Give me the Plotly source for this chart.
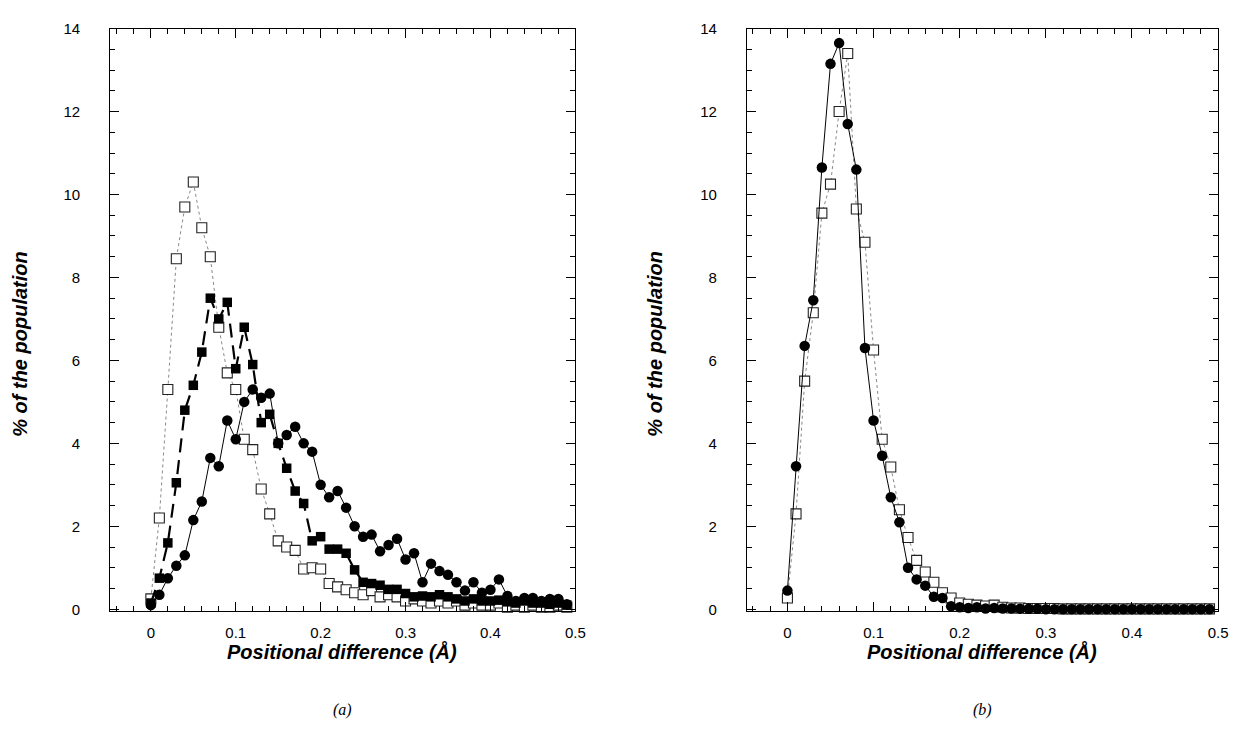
import plotly.graph_objects as go

# ---------------- data ----------------
x_bins = [0.00, 0.01, 0.02, 0.03, 0.04, 0.05, 0.06, 0.07, 0.08, 0.09,
          0.10, 0.11, 0.12, 0.13, 0.14, 0.15, 0.16, 0.17, 0.18, 0.19,
          0.20, 0.21, 0.22, 0.23, 0.24, 0.25, 0.26, 0.27, 0.28, 0.29,
          0.30, 0.31, 0.32, 0.33, 0.34, 0.35, 0.36, 0.37, 0.38, 0.39,
          0.40, 0.41, 0.42, 0.43, 0.44, 0.45, 0.46, 0.47, 0.48, 0.49]

# panel (a)
a_open_squares = [0.25, 2.2, 5.3, 8.45, 9.7, 10.3, 9.2, 8.5, 6.8, 5.7,
                  5.3, 4.1, 3.85, 2.9, 2.3, 1.65, 1.5, 1.42, 0.97, 1.0,
                  0.97, 0.62, 0.54, 0.47, 0.4, 0.35, 0.45, 0.3, 0.35, 0.3,
                  0.2, 0.25, 0.2, 0.15, 0.2, 0.15, 0.2, 0.1, 0.15, 0.1,
                  0.1, 0.15, 0.05, 0.1, 0.05, 0.1, 0.05, 0.05, 0.1, 0.05]
a_filled_squares = [0.15, 0.75, 1.6, 3.05, 4.8, 5.4, 6.2, 7.5, 7.0, 7.4,
                    5.8, 6.8, 5.9, 4.5, 4.7, 4.0, 3.4, 2.85, 2.55, 1.65,
                    1.75, 1.45, 1.45, 1.35, 0.95, 0.65, 0.62, 0.58, 0.48, 0.48,
                    0.38, 0.3, 0.32, 0.3, 0.35, 0.3, 0.25, 0.2, 0.25, 0.2,
                    0.2, 0.22, 0.18, 0.15, 0.2, 0.15, 0.15, 0.12, 0.15, 0.1]
a_circles = [0.1, 0.35, 0.75, 1.05, 1.3, 2.15, 2.6, 3.65, 3.45, 4.55,
             4.1, 5.0, 5.3, 5.1, 5.2, 4.0, 4.2, 4.4, 4.0, 3.8,
             3.0, 2.7, 2.85, 2.45, 2.0, 1.75, 1.8, 1.4, 1.55, 1.7,
             1.2, 1.35, 0.65, 1.1, 0.92, 0.83, 0.65, 0.45, 0.65, 0.4,
             0.47, 0.72, 0.32, 0.2, 0.27, 0.27, 0.2, 0.25, 0.25, 0.12]

# panel (b)
b_open_squares = [0.27, 2.3, 5.5, 7.15, 9.55, 10.25, 12.0, 13.4, 9.65, 8.85,
                  6.25, 4.1, 3.43, 2.4, 1.73, 1.18, 0.9, 0.65, 0.4, 0.27,
                  0.15, 0.12, 0.1, 0.08, 0.1, 0.05, 0.03, 0.03, 0.02, 0.02,
                  0.02, 0.02, 0.01, 0.01, 0.01, 0.01, 0.01, 0.01, 0.01, 0.01,
                  0.01, 0.01, 0.01, 0.01, 0.01, 0.01, 0.01, 0.01, 0.01, 0.01]
b_circles = [0.45, 3.45, 6.35, 7.45, 10.65, 13.15, 13.65, 11.7, 10.6, 6.3,
             4.55, 3.7, 2.7, 2.1, 1.0, 0.72, 0.57, 0.3, 0.27, 0.07,
             0.05, 0.03, 0.05, 0.02, 0.03, 0.02, 0.02, 0.01, 0.01, 0.01,
             0.0, 0.0, 0.0, 0.0, 0.0, 0.0, 0.0, 0.0, 0.0, 0.0,
             0.0, 0.0, 0.0, 0.0, 0.0, 0.0, 0.0, 0.0, 0.0, 0.0]

y_ticks = [0, 2, 4, 6, 8, 10, 12, 14]
y_tick_labels = ["0", "2", "4", "6", "8", "10", "12", "14"]
x_ticks = [0, 0.1, 0.2, 0.3, 0.4, 0.5]
x_tick_labels = ["0", "0.1", "0.2", "0.3", "0.4", "0.5"]

y_title = "% of the population"
x_title = "Positional difference (Å)"
captions = ["(a)", "(b)"]

# ---------------- figure ----------------
W, H = 1243, 729
fig = go.Figure()


def open_sq(x, y, xa, ya):
    return go.Scatter(x=x, y=y, xaxis=xa, yaxis=ya, mode="lines+markers",
                      line=dict(color="#888888", width=1, dash="dot"),
                      marker=dict(symbol="square", size=10, color="white",
                                  line=dict(color="#222222", width=1.1)),
                      showlegend=False, cliponaxis=False)


def filled_sq(x, y, xa, ya):
    return go.Scatter(x=x, y=y, xaxis=xa, yaxis=ya, mode="lines+markers",
                      line=dict(color="black", width=2.2, dash="14px,8px"),
                      marker=dict(symbol="square", size=9.5, color="black"),
                      showlegend=False, cliponaxis=False)


def circles(x, y, xa, ya):
    return go.Scatter(x=x, y=y, xaxis=xa, yaxis=ya, mode="lines+markers",
                      line=dict(color="black", width=1),
                      marker=dict(symbol="circle", size=10.5, color="black"),
                      showlegend=False, cliponaxis=False)


fig.add_trace(open_sq(x_bins, a_open_squares, "x", "y"))
fig.add_trace(filled_sq(x_bins, a_filled_squares, "x", "y"))
fig.add_trace(circles(x_bins, a_circles, "x", "y"))

fig.add_trace(open_sq(x_bins, b_open_squares, "x2", "y2"))
fig.add_trace(circles(x_bins, b_circles, "x2", "y2"))

tickfont = dict(family="Liberation Sans, Arial, sans-serif", size=15, color="black")


def xaxis(domain, rng, anchor):
    return dict(domain=domain, range=rng, anchor=anchor,
                showline=True, linecolor="black", linewidth=1, mirror="ticks",
                ticks="inside", ticklen=9, tickwidth=1, tickcolor="black",
                tickmode="array", tickvals=x_ticks, ticktext=x_tick_labels,
                minor=dict(ticks="inside", ticklen=5, tickwidth=1, tickcolor="black",
                           dtick=0.02, tick0=0, showgrid=False),
                showgrid=False, zeroline=False, tickfont=tickfont,
                ticklabelstandoff=8)


def yaxis(domain, rng, anchor):
    return dict(domain=domain, range=rng, anchor=anchor,
                showline=True, linecolor="black", linewidth=1, mirror="ticks",
                ticks="inside", ticklen=9, tickwidth=1, tickcolor="black",
                tickmode="array", tickvals=y_ticks, ticktext=y_tick_labels,
                minor=dict(ticks="inside", ticklen=5, tickwidth=1, tickcolor="black",
                           dtick=0.5, tick0=0, showgrid=False),
                showgrid=False, zeroline=False, tickfont=tickfont,
                ticklabelstandoff=26)


ydom = [1 - 615 / H, 1 - 20 / H]
fig.update_layout(
    width=W, height=H,
    margin=dict(l=0, r=0, t=0, b=0),
    paper_bgcolor="white", plot_bgcolor="white",
    xaxis=xaxis([111 / W, 580 / W], [-0.048, 0.5], "y"),
    yaxis=yaxis(ydom, [-0.05, 14.0], "x"),
    xaxis2=xaxis([753 / W, 1228 / W], [-0.047, 0.5], "y2"),
    yaxis2=yaxis(ydom, [-0.05, 14.0], "x2"),
)

title_font = dict(family="Liberation Sans, Arial, sans-serif", size=20, color="black")
ann = []
for cx_y, cx_x, cap in [(20, 345, captions[0]), (660, 990, captions[1])]:
    ann.append(dict(xref="paper", yref="paper", x=cx_y / W, y=1 - 342 / H,
                    text="<b><i>" + y_title + "</i></b>", textangle=-90,
                    showarrow=False, font=title_font, xanchor="center", yanchor="middle"))
    ann.append(dict(xref="paper", yref="paper", x=cx_x / W, y=1 - 656 / H,
                    text="<b><i>" + x_title + "</i></b>",
                    showarrow=False, font=title_font, xanchor="center", yanchor="middle"))
    ann.append(dict(xref="paper", yref="paper", x=cx_x / W, y=1 - 716 / H,
                    text="<i>" + cap + "</i>",
                    showarrow=False,
                    font=dict(family="Liberation Serif, Times New Roman, serif", size=16, color="black"),
                    xanchor="center", yanchor="middle"))
fig.update_layout(annotations=ann)

fig.write_html("out.html")
